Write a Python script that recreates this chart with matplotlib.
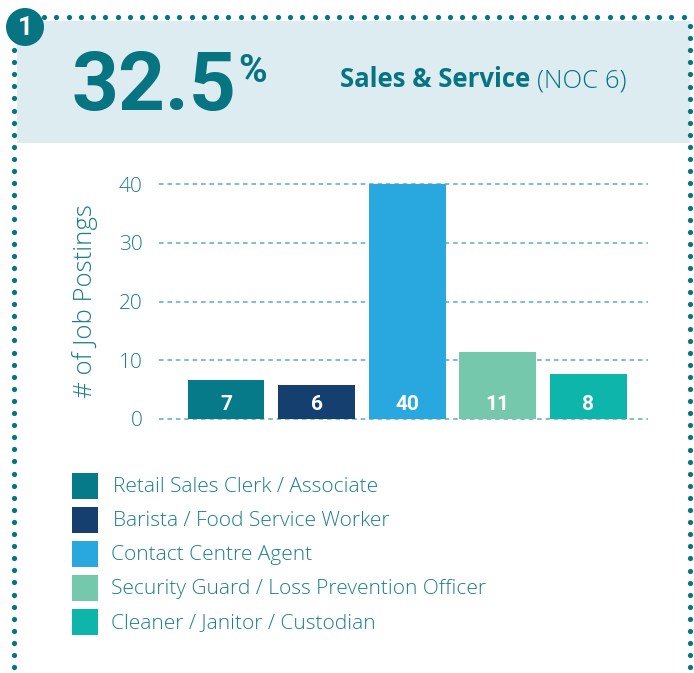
import matplotlib
matplotlib.use("Agg")
import matplotlib.pyplot as plt
import numpy as np
from matplotlib.patches import Rectangle, Circle

plt.rcParams['font.family'] = ['Lato', 'DejaVu Sans']

# chart data (heights, labels are the rounded counts)
jobs = ["Retail Sales Clerk / Associate",
        "Barista / Food Service Worker",
        "Contact Centre Agent",
        "Security Guard / Loss Prevention Officer",
        "Cleaner / Janitor / Custodian"]
postings = [6.6, 5.8, 40, 11.4, 7.7]
colours = ["#077a8a", "#143f6e", "#29a8e0", "#76c8ad", "#0db5aa"]
y_ticks = [0, 10, 20, 30, 40]

share = "32.5"
group = "Sales & Service"
noc = "(NOC 6)"

W, H = 694, 673
teal = "#077482"
text_teal = "#1a7f8e"

fig = plt.figure(figsize=(W / 100, H / 100), dpi=100)

# overlay in pixel coords for the card decoration
deco = fig.add_axes([0, 0, 1, 1])
deco.set_xlim(0, W)
deco.set_ylim(H, 0)
deco.axis("off")

deco.add_patch(Rectangle((17, 21), 673, 122, color="#ddecf0", lw=0))
top_x = np.arange(44, W + 5, 12.3)
deco.scatter(top_x, np.full(len(top_x), 17), s=14, color=teal, lw=0)
left_y = np.arange(50, H + 5, 12.1)
deco.scatter(np.full(len(left_y), 14), left_y, s=14, color=teal, lw=0)
right_y = np.arange(26, H + 5, 12.1)
deco.scatter(np.full(len(right_y), 690), right_y, s=14, color=teal, lw=0)
deco.add_patch(Circle((25, 27), 19, color=teal, lw=0))
deco.text(25, 28, "1", color="white", fontsize=19, fontweight="bold",
          family="Roboto", ha="center", va="center")

deco.text(72, 110, share, color=teal, fontsize=59, fontweight="bold",
          family="Roboto", ha="left", va="baseline")
deco.text(238, 82, "%", color=teal, fontsize=28, fontweight="bold",
          family="Roboto", ha="left", va="baseline")
t = deco.text(340, 87, group + " ", color=teal, fontsize=18.5,
              fontweight="bold", family="Open Sans", ha="left", va="baseline")
deco.annotate(noc, xy=(1, 0), xycoords=t, color=teal, fontsize=18.5,
              family="Open Sans", fontweight="light", ha="left", va="bottom")

# legend
for i, (name, c) in enumerate(zip(jobs, colours)):
    yc = 486 + i * 34
    deco.add_patch(Rectangle((72, yc - 13), 26, 26, color=c, lw=0))
    deco.text(113 if i < 2 else 111, yc + 1, name, color=text_teal,
              fontsize=15, fontweight="light", family="Open Sans",
              ha="left", va="center")

# bar chart
ax = fig.add_axes([159 / W, 1 - 419 / H, (648 - 159) / W, (419 - 184) / H])
x = np.arange(len(postings))
ax.bar(x, postings, width=0.85, color=colours, zorder=3)
for xi, v in zip(x, postings):
    ax.text(xi, 2.5, f"{v:.0f}", color="white", fontsize=15,
            fontweight="bold", family="Roboto", ha="center", va="center",
            zorder=4)

ax.set_xlim(-0.74, 4.66)
ax.set_ylim(0, 40)
ax.set_yticks(y_ticks)
ax.set_xticks([])
for yv in y_ticks:
    ax.axhline(yv, color="#5aaebb", lw=1.1, ls=(0, (3, 2.5)), zorder=1,
               clip_on=False)
for s in ax.spines.values():
    s.set_visible(False)
ax.tick_params(axis="y", length=0, pad=12, labelsize=15, labelcolor=text_teal)
for lab in ax.get_yticklabels():
    lab.set_family("Open Sans")
    lab.set_fontweight("light")
ax.set_facecolor("none")
ax.set_ylabel("# of Job Postings", color=text_teal, fontsize=18.5,
              family="Open Sans", fontweight="light", labelpad=15)

fig.savefig("out.png", dpi=100)
